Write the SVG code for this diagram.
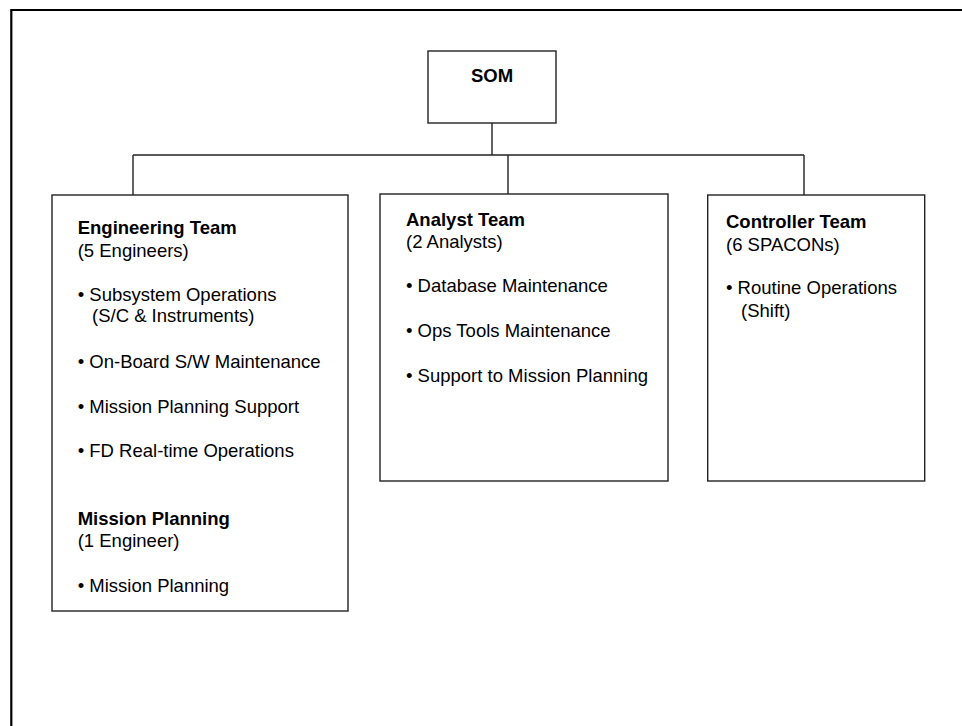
<svg xmlns="http://www.w3.org/2000/svg" width="962" height="726" viewBox="0 0 962 726">
<style>
.box{fill:#fff;stroke:#222;stroke-width:1.4}
.conn{stroke:#222;stroke-width:1.4;fill:none}
.frame{stroke:#000;stroke-width:2.2;fill:none}
text{font-family:"Liberation Sans",Arial,sans-serif;font-size:18.5px;fill:#000}
.b{font-weight:bold}
</style>
<rect width="962" height="726" fill="#fff"/>
<path class="frame" d="M11.3,726 V10 H962"/>
<g id="connectors">
<line class="conn" x1="492" y1="123" x2="492" y2="155"/>
<line class="conn" x1="133" y1="155" x2="804" y2="155"/>
<line class="conn" x1="133" y1="155" x2="133" y2="195"/>
<line class="conn" x1="508" y1="155" x2="508" y2="194"/>
<line class="conn" x1="804" y1="155" x2="804" y2="195"/>
</g>
<g id="som">
<rect class="box" x="428" y="51" width="128" height="72"/>
<text class="b" x="492" y="82" text-anchor="middle">SOM</text>
</g>
<g id="engineering">
<rect class="box" x="52" y="195" width="296" height="416"/>
<text class="b" x="77.7" y="234.3">Engineering Team</text>
<text x="77.7" y="256.5">(5 Engineers)</text>
<text x="77.7" y="301">• Subsystem Operations</text>
<text x="92" y="321.7">(S/C &amp; Instruments)</text>
<text x="77.7" y="368.3">• On-Board S/W Maintenance</text>
<text x="77.7" y="412.7">• Mission Planning Support</text>
<text x="77.7" y="456.7">• FD Real-time Operations</text>
<text class="b" x="77.7" y="525">Mission Planning</text>
<text x="77.7" y="546.7">(1 Engineer)</text>
<text x="77.7" y="591.7">• Mission Planning</text>
</g>
<g id="analyst">
<rect class="box" x="380" y="194" width="288" height="287"/>
<text class="b" x="406" y="225.7">Analyst Team</text>
<text x="406" y="248.3">(2 Analysts)</text>
<text x="406" y="292.3">• Database Maintenance</text>
<text x="406" y="337.3">• Ops Tools Maintenance</text>
<text x="406" y="382.3">• Support to Mission Planning</text>
</g>
<g id="controller">
<rect class="box" x="707.7" y="195" width="217" height="286"/>
<text class="b" x="726" y="228">Controller Team</text>
<text x="726" y="250.7">(6 SPACONs)</text>
<text x="726" y="294.3">• Routine Operations</text>
<text x="741" y="317.3">(Shift)</text>
</g>
</svg>
